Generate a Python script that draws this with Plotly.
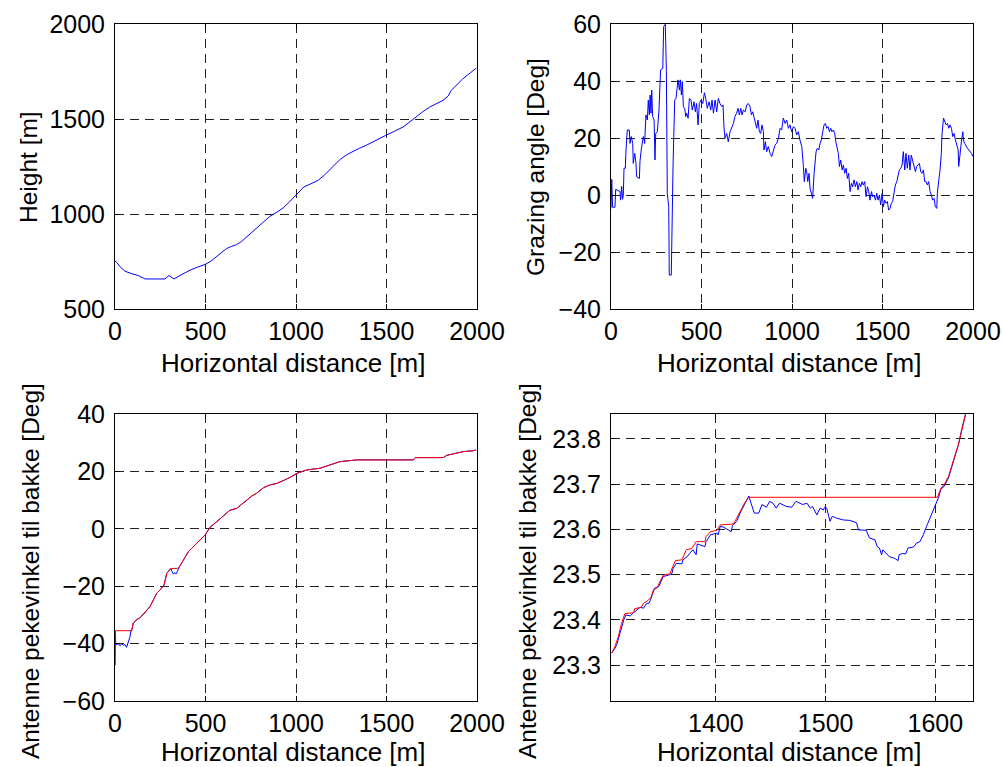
import plotly.graph_objects as go

# ---------------- data ----------------
# Top-left: terrain height profile
height_dist = [0, 9, 30, 55, 92, 129, 166, 200, 240, 276, 298, 312, 326, 370, 414, 455, 497,
               530, 561, 590, 616, 645, 672, 700, 727, 765, 800, 830, 856, 895, 929, 960, 994,
               1020, 1043, 1080, 1122, 1155, 1187, 1215, 1242, 1280, 1316, 1350, 1389, 1440,
               1496, 1545, 1592, 1630, 1665, 1700, 1739, 1775, 1812, 1840, 1858, 1920, 1996]
height_m = [752, 746, 720, 699, 686, 676, 658, 658, 658, 658, 676, 668, 658, 682, 704, 720, 734,
            752, 777, 796, 818, 830, 839, 856, 879, 912, 944, 965, 988, 1010, 1032, 1060, 1093,
            1120, 1142, 1158, 1177, 1203, 1233, 1260, 1286, 1312, 1330, 1346, 1362, 1388,
            1414, 1436, 1458, 1486, 1514, 1538, 1563, 1580, 1598, 1620, 1651, 1710, 1768]

# Top-right: grazing angle
graze_dist = [0, 4, 9, 22, 26, 50, 53, 59, 64, 68, 72, 79, 83, 90, 101, 105, 112, 120, 123, 131,
              138, 142, 157, 160, 168, 175, 179, 186, 193, 201, 206, 212, 216, 221, 225, 230, 238,
              243, 247, 256, 265, 274, 286, 291, 300, 306, 311, 319, 322, 333, 337, 343, 352, 359,
              365, 370, 378, 383, 389, 394, 400, 407, 413, 418, 426, 433, 442, 449, 459, 466, 473,
              481, 488, 497, 507, 516, 525, 532, 542, 551, 558, 566, 575, 584, 593, 602, 612, 619,
              624, 630, 639, 648, 658, 667, 676, 685, 694, 702, 709, 717, 724, 731, 741, 750, 759,
              768, 776, 783, 790, 798, 805, 812, 820, 827, 834, 842, 845, 853, 860, 869, 879, 888,
              897, 906, 915, 925, 934, 943, 952, 962, 971, 980, 989, 998, 1008, 1017, 1026, 1035,
              1044, 1054, 1063, 1068, 1076, 1081, 1087, 1094, 1100, 1107, 1114, 1122, 1127, 1133,
              1140, 1148, 1155, 1162, 1170, 1177, 1184, 1192, 1199, 1207, 1214, 1221, 1229, 1236,
              1242, 1249, 1256, 1262, 1269, 1277, 1284, 1291, 1299, 1306, 1313, 1321, 1328, 1335,
              1343, 1350, 1358, 1365, 1372, 1380, 1387, 1394, 1402, 1409, 1417, 1424, 1431, 1439,
              1446, 1453, 1461, 1468, 1475, 1483, 1490, 1498, 1505, 1512, 1520, 1527, 1534, 1542,
              1549, 1556, 1564, 1571, 1579, 1586, 1593, 1601, 1608, 1615, 1623, 1630, 1637, 1645,
              1652, 1659, 1667, 1674, 1682, 1689, 1696, 1704, 1711, 1718, 1726, 1733, 1741, 1748,
              1755, 1763, 1770, 1777, 1785, 1792, 1800, 1803, 1811, 1818, 1825, 1829, 1837, 1844,
              1851, 1859, 1866, 1873, 1881, 1888, 1895, 1903, 1910, 1918, 1921, 1929, 1937, 1944,
              1947, 1954, 1962, 1969, 1977, 1984, 1992, 1999]
graze_deg = [-4.7, 5.5, -4.3, -4.3, 2.0, 1.2, -1.8, 3.0, -1.5, 0.0, 9.4, 9.4, 15.8, 22.8, 22.8,
             18.1, 20.5, 18.1, 11.1, 14.6, 11.1, 6.4, 5.8, 11.7, 16.4, 19.3, 20.5, 18.1, 28.1,
             26.3, 33.3, 28.1, 35.1, 28.7, 36.8, 27.5, 26.3, 12.3, 21.6, 22.2, 29.8, 43.9, 44.4,
             59.1, 59.9, 43.3, 0.6, -4.1, -28.1, -28.1, -4.1, 11.1, 33.3, 33.9, 37.4, 40.4, 36.8,
             40.4, 35.1, 39.8, 31.0, 30.4, 27.5, 28.7, 26.9, 33.9, 33.3, 29.8, 32.7, 29.2, 32.1,
             24.6, 32.1, 33.3, 32.1, 35.9, 33.3, 30.4, 32.7, 29.8, 33.3, 28.7, 33.3, 29.2, 33.9,
             32.1, 31.0, 31.6, 24.0, 19.9, 21.6, 18.7, 22.2, 23.4, 25.1, 27.5, 28.7, 30.4, 28.1,
             30.4, 28.1, 29.8, 29.2, 31.6, 32.1, 31.0, 28.1, 29.2, 27.5, 25.7, 23.4, 26.3, 22.2,
             21.6, 24.6, 22.2, 15.8, 18.7, 15.2, 17.0, 14.6, 13.5, 15.8, 17.5, 18.1, 19.9, 23.4,
             22.8, 27.0, 25.1, 26.3, 23.4, 24.6, 22.2, 24.0, 23.4, 21.1, 22.2, 19.3, 17.0, 10.0,
             4.7, 9.4, 8.2, 4.7, 7.6, 2.3, 0.0, -1.2, 7.6, 12.9, 15.2, 16.4, 15.8, 18.1, 19.3,
             22.2, 24.6, 25.1, 23.4, 24.0, 22.2, 23.4, 22.2, 22.8, 21.6, 18.7, 17.0, 14.6, 10.0,
             12.3, 8.8, 10.5, 7.6, 9.4, 5.8, 7.6, 1.2, 4.1, 2.9, 5.3, 2.9, 4.7, 1.8, 4.1, 2.9,
             4.7, 3.5, 4.7, -0.6, 2.9, 1.2, -1.8, 1.2, -0.6, 0.0, -1.8, 0.6, -1.8, 0.0, -3.5,
             0.6, -4.1, -1.8, -2.9, -2.3, -5.3, -4.7, -2.9, -2.3, 1.2, 3.5, 4.7, 7.6, 8.8, 9.4,
             10.5, 15.2, 8.8, 14.6, 9.4, 14.0, 8.8, 14.0, 12.3, 10.0, 8.2, 10.0, 10.5, 11.1, 8.2,
             7.6, 8.8, 4.7, 4.7, 3.5, 4.7, 1.2, 0.0, -1.8, -1.2, -4.1, -4.7, 0.6, 5.3, 8.8, 14.6,
             21.6, 27.0, 25.7, 24.6, 25.1, 23.4, 24.6, 23.4, 20.5, 21.6, 19.3, 17.5, 15.8, 10.0,
             15.2, 19.3, 22.2, 19.3, 18.1, 17.0, 16.4, 15.8, 15.2, 14.6, 13.5]

# Bottom-left: antenna pointing angle (blue = raw, red = kept)
ant_blue_dist = [0, 2, 4, 9, 18, 28, 37, 46, 55, 64, 74, 83, 88, 92, 101, 116, 138, 166, 193,
                 212, 230, 249, 271, 286, 304, 309, 315, 322, 332, 337, 344, 350, 356, 378, 405,
                 451, 497, 525, 562, 599, 636, 672, 709, 755, 783, 820, 857, 893, 930, 967, 1004,
                 1059, 1133, 1188, 1243, 1336, 1649, 1658, 1814, 1833, 1925, 1980, 1995]
ant_blue_deg = [-47.5, -35.5, -39.9, -40.5, -39.9, -40.8, -40.1, -40.6, -40.3, -41.3, -39.3,
                -37.6, -35.5, -35.5, -32.9, -31.8, -31.0, -29.2, -27.1, -24.8, -22.5, -21.3,
                -19.6, -15.5, -14.4, -13.8, -14.9, -15.7, -15.3, -15.7, -14.9, -13.8, -13.2,
                -10.9, -8.0, -5.1, -2.2, 0.5, 2.5, 4.8, 6.5, 7.1, 8.9, 11.4, 12.4, 14.3, 15.3,
                15.8, 16.8, 17.9, 19.3, 20.5, 21.1, 22.2, 23.4, 24.0, 24.0, 24.8, 24.8, 25.6,
                26.9, 27.2, 27.5]
ant_red_dist = [0, 2, 92, 101, 116, 138, 166, 193, 212, 230, 249, 271, 286, 304, 309, 344, 356,
                378, 405, 451, 497, 525, 562, 599, 636, 672, 709, 755, 783, 820, 857, 893, 930,
                967, 1004, 1059, 1133, 1188, 1243, 1336, 1649, 1658, 1814, 1833, 1925, 1980, 1995]
ant_red_deg = [-47.5, -35.5, -35.5, -32.9, -31.8, -31.0, -29.2, -27.1, -24.8, -22.5, -21.3,
               -19.6, -15.5, -14.4, -13.8, -13.8, -13.2, -10.9, -8.0, -5.1, -2.2, 0.5, 2.5, 4.8,
               6.5, 7.1, 8.9, 11.4, 12.4, 14.3, 15.3, 15.8, 16.8, 17.9, 19.3, 20.5, 21.1, 22.2,
               23.4, 24.0, 24.0, 24.8, 24.8, 25.6, 26.9, 27.2, 27.5]

# Bottom-right: zoom of the antenna angle
zoom_blue_dist = [1305, 1308, 1310, 1313, 1316, 1318, 1322, 1325, 1328, 1331, 1334, 1337, 1339,
                  1341, 1344, 1348, 1352, 1357, 1360, 1361, 1364, 1369, 1370, 1374, 1376, 1379,
                  1382, 1383, 1390, 1391, 1395, 1401, 1402, 1404, 1407, 1414, 1415, 1419, 1422,
                  1425, 1428, 1430, 1432, 1435, 1439, 1442, 1446, 1449, 1452, 1455, 1458, 1461,
                  1464, 1469, 1473, 1479, 1483, 1486, 1488, 1492, 1495, 1498, 1499, 1501, 1504,
                  1506, 1510, 1516, 1522, 1528, 1530, 1537, 1540, 1545, 1547, 1549, 1551, 1552,
                  1555, 1558, 1563, 1566, 1567, 1570, 1573, 1575, 1580, 1583, 1586, 1589, 1592,
                  1595, 1598, 1601, 1603, 1605, 1608, 1612, 1615, 1618, 1621, 1624, 1627, 1634]
zoom_blue_deg = [23.327, 23.337, 23.348, 23.374, 23.400, 23.411, 23.409, 23.416, 23.422, 23.428,
                 23.426, 23.437, 23.437, 23.448, 23.470, 23.474, 23.496, 23.499, 23.503, 23.514,
                 23.525, 23.524, 23.533, 23.540, 23.547, 23.555, 23.544, 23.568, 23.562, 23.573,
                 23.588, 23.592, 23.588, 23.607, 23.605, 23.595, 23.608, 23.618, 23.636, 23.649,
                 23.662, 23.674, 23.658, 23.636, 23.636, 23.655, 23.649, 23.662, 23.658, 23.647,
                 23.658, 23.655, 23.651, 23.649, 23.662, 23.655, 23.658, 23.647, 23.651, 23.632,
                 23.647, 23.643, 23.649, 23.647, 23.618, 23.629, 23.625, 23.621, 23.620, 23.615,
                 23.599, 23.598, 23.581, 23.577, 23.562, 23.559, 23.544, 23.555, 23.547, 23.540,
                 23.536, 23.531, 23.544, 23.547, 23.546, 23.559, 23.561, 23.570, 23.573, 23.588,
                 23.607, 23.625, 23.643, 23.658, 23.671, 23.689, 23.695, 23.714, 23.739, 23.761,
                 23.787, 23.821, 23.854, 23.92]
zoom_red_dist = [1305, 1308, 1311, 1314, 1317, 1325, 1326, 1332, 1334, 1338, 1341, 1343, 1346,
                 1349, 1352, 1358, 1360, 1363, 1369, 1373, 1378, 1382, 1390, 1391, 1395, 1401,
                 1404, 1416, 1419, 1423, 1426, 1430, 1602, 1605, 1608, 1612, 1615, 1618, 1621,
                 1624, 1627, 1634]
zoom_red_deg = [23.327, 23.341, 23.363, 23.392, 23.414, 23.416, 23.425, 23.428, 23.437, 23.443,
                23.451, 23.466, 23.470, 23.485, 23.499, 23.502, 23.514, 23.531, 23.533, 23.555,
                23.558, 23.573, 23.573, 23.584, 23.595, 23.598, 23.610, 23.612, 23.625, 23.643,
                23.658, 23.671, 23.671, 23.691, 23.699, 23.717, 23.743, 23.765, 23.787, 23.821,
                23.854, 23.92]

# Tick values
dist_ticks = [0, 500, 1000, 1500, 2000]
height_ticks = [500, 1000, 1500, 2000]
graze_ticks = [-40, -20, 0, 20, 40, 60]
ant_ticks = [-60, -40, -20, 0, 20, 40]
zoom_x_ticks = [1400, 1500, 1600]
zoom_y_ticks = [23.3, 23.4, 23.5, 23.6, 23.7, 23.8]

# ---------------- figure ----------------
W, H = 1003, 767
FONT = "Liberation Sans, Arial, sans-serif"
BLUE = "#0000ff"
RED = "#ff0000"


def xd(a, b):
    return [a / W, b / W]


def yd(top, bottom):
    return [1 - bottom / H, 1 - top / H]


fig = go.Figure()
fig.add_trace(go.Scatter(x=height_dist, y=height_m, mode="lines",
                         line=dict(color=BLUE, width=1), xaxis="x", yaxis="y"))
fig.add_trace(go.Scatter(x=graze_dist, y=graze_deg, mode="lines",
                         line=dict(color=BLUE, width=1), xaxis="x2", yaxis="y2"))
fig.add_trace(go.Scatter(x=ant_blue_dist, y=ant_blue_deg, mode="lines",
                         line=dict(color=BLUE, width=1), xaxis="x3", yaxis="y3"))
fig.add_trace(go.Scatter(x=ant_red_dist, y=ant_red_deg, mode="lines",
                         line=dict(color=RED, width=1), xaxis="x3", yaxis="y3"))
fig.add_trace(go.Scatter(x=zoom_blue_dist, y=zoom_blue_deg, mode="lines",
                         line=dict(color=BLUE, width=1), xaxis="x4", yaxis="y4"))
fig.add_trace(go.Scatter(x=zoom_red_dist, y=zoom_red_deg, mode="lines",
                         line=dict(color=RED, width=1), xaxis="x4", yaxis="y4"))

common = dict(showline=True, linecolor="black", linewidth=1, mirror="ticks",
              ticks="inside", ticklen=5, tickwidth=1, tickcolor="black",
              showgrid=True, gridcolor="#222222", griddash="9px,6px", gridwidth=1,
              zeroline=False, tickmode="array", automargin=False,
              tickfont=dict(family=FONT, size=25, color="black"))

fig.update_layout(
    width=W, height=H,
    margin=dict(l=0, r=0, t=0, b=0, autoexpand=False),
    paper_bgcolor="white", plot_bgcolor="white",
    showlegend=False,
    xaxis=dict(common, domain=xd(115, 477), anchor="y", range=[0, 2000],
               tickvals=dist_ticks, ticklabelstandoff=0),
    yaxis=dict(common, domain=yd(24, 309), anchor="x", range=[500, 2000],
               tickvals=height_ticks, ticklabelstandoff=4),
    xaxis2=dict(common, domain=xd(611, 973), anchor="y2", range=[0, 2000],
                tickvals=dist_ticks, ticklabelstandoff=0),
    yaxis2=dict(common, domain=yd(24, 309), anchor="x2", range=[-40, 60],
                tickvals=graze_ticks, ticklabelstandoff=4),
    xaxis3=dict(common, domain=xd(115, 477), anchor="y3", range=[0, 2000],
                tickvals=dist_ticks, ticklabelstandoff=0),
    yaxis3=dict(common, domain=yd(414, 701), anchor="x3", range=[-60, 40],
                tickvals=ant_ticks, ticklabelstandoff=4),
    xaxis4=dict(common, domain=xd(611, 973), anchor="y4", range=[1304.4, 1634.3],
                tickvals=zoom_x_ticks, ticklabelstandoff=0),
    yaxis4=dict(common, domain=yd(414, 701), anchor="x4", range=[23.221, 23.855],
                tickvals=zoom_y_ticks, ticktext=["%.1f" % v for v in zoom_y_ticks],
                ticklabelstandoff=4),
)

label_font = dict(family=FONT, size=25, color="black")


def ann(text, px, py, angle=0, size=25):
    fig.add_annotation(text=text, x=px / W, y=1 - py / H, xref="paper", yref="paper",
                       showarrow=False, textangle=angle,
                       font=dict(label_font, size=size),
                       xanchor="center", yanchor="middle")


ann("Horizontal distance [m]", 293, 363, size=26)
ann("Horizontal distance [m]", 789, 363, size=26)
ann("Horizontal distance [m]", 293, 752, size=26)
ann("Horizontal distance [m]", 789, 752, size=26)
ann("Height [m]", 28, 167, -90, size=24.5)
ann("Grazing angle [Deg]", 535, 167, -90, size=24.5)
ann("Antenne pekevinkel til bakke [Deg]", 30, 571, -90, size=24.5)
ann("Antenne pekevinkel til bakke [Deg]", 527, 571, -90, size=24.5)

fig.write_html("out.html")
